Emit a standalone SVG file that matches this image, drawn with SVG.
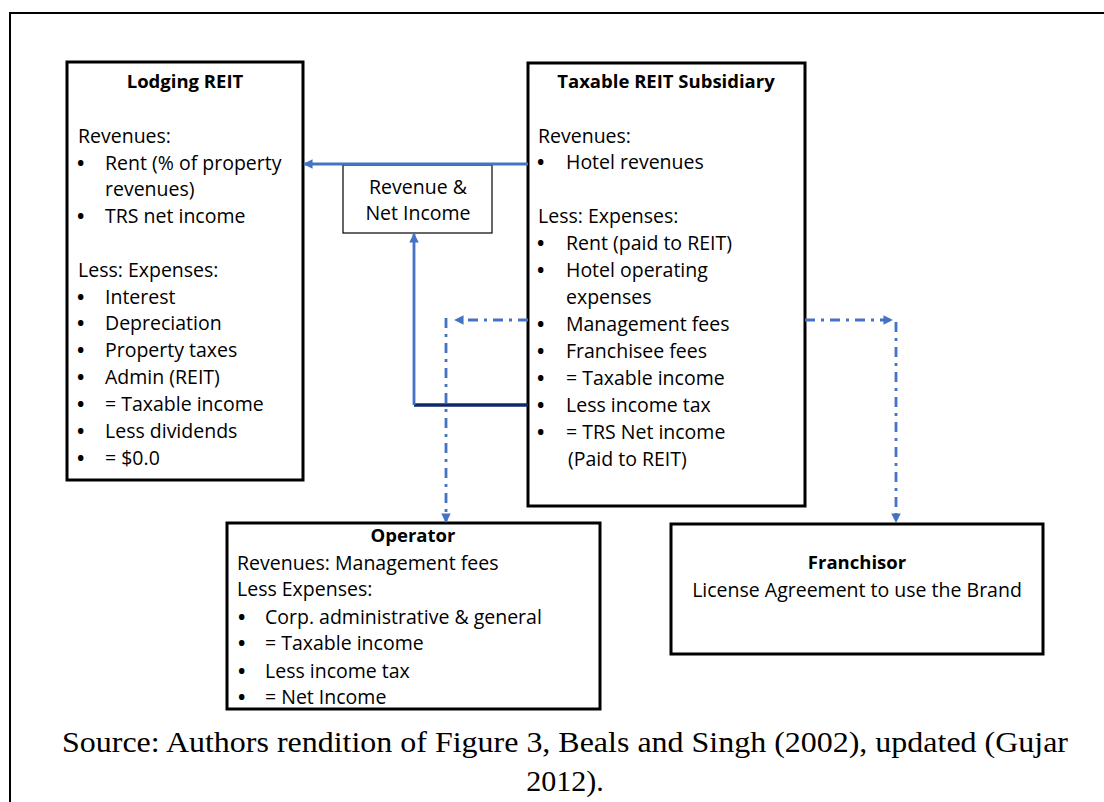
<svg xmlns="http://www.w3.org/2000/svg" width="1104" height="802" viewBox="0 0 1104 802">
<style>
.t{font-family:"Open Sans","Noto Sans",sans-serif;font-size:19.5px;fill:#000}
.bu{font-family:"Open Sans","Noto Sans",sans-serif;font-size:19.5px;font-weight:bold;fill:#000}
.b{font-weight:bold;font-size:18.5px}
.c{text-anchor:middle}
.box{fill:#fff;stroke:#000;stroke-width:3}
.thin{fill:#fff;stroke:#000;stroke-width:1.2}
.blue{fill:none;stroke:#4472C4;stroke-width:2.8}
.dd{fill:none;stroke:#4472C4;stroke-width:2.8;stroke-dasharray:10 6 3 6}
.navy{fill:none;stroke:#0E2A6B;stroke-width:3.5}
.cap{font-family:"Liberation Serif","Times New Roman",serif;font-size:30px;fill:#000;text-anchor:middle}
</style>
<defs>
<marker id="ah" viewBox="0 0 10 10" refX="9" refY="5" markerWidth="3.4" markerHeight="3.4" orient="auto" markerUnits="strokeWidth">
<path d="M0,0 L10,5 L0,10 z" fill="#4472C4"/>
</marker>
</defs>
<rect width="1104" height="802" fill="#fff"/>
<rect x="10" y="13" width="1110" height="810" fill="none" stroke="#000" stroke-width="2"/>

<g id="lodging">
<rect class="box" x="67" y="62" width="236" height="418"/>
<text class="t b c" x="185" y="88">Lodging REIT</text>
<text class="t" x="78" y="143">Revenues:</text>
<text class="bu" x="77" y="170">•</text><text class="t" x="105" y="170">Rent (% of property</text>
<text class="t" x="105" y="196">revenues)</text>
<text class="bu" x="77" y="223">•</text><text class="t" x="105" y="223">TRS net income</text>
<text class="t" x="78" y="277">Less: Expenses:</text>
<text class="bu" x="77" y="304">•</text><text class="t" x="105" y="304">Interest</text>
<text class="bu" x="77" y="330">•</text><text class="t" x="105" y="330">Depreciation</text>
<text class="bu" x="77" y="357">•</text><text class="t" x="105" y="357">Property taxes</text>
<text class="bu" x="77" y="384">•</text><text class="t" x="105" y="384">Admin (REIT)</text>
<text class="bu" x="77" y="411">•</text><text class="t" x="105" y="411">= Taxable income</text>
<text class="bu" x="77" y="438">•</text><text class="t" x="105" y="438">Less dividends</text>
<text class="bu" x="77" y="465">•</text><text class="t" x="105" y="465">= $0.0</text>
</g>

<g id="trs">
<rect class="box" x="528" y="63" width="277" height="443"/>
<text class="t b c" x="666" y="88">Taxable REIT Subsidiary</text>
<text class="t" x="538" y="143">Revenues:</text>
<text class="bu" x="537" y="169">•</text><text class="t" x="566" y="169">Hotel revenues</text>
<text class="t" x="538" y="223">Less: Expenses:</text>
<text class="bu" x="537" y="250">•</text><text class="t" x="566" y="250">Rent (paid to REIT)</text>
<text class="bu" x="537" y="277">•</text><text class="t" x="566" y="277">Hotel operating</text>
<text class="t" x="566" y="304">expenses</text>
<text class="bu" x="537" y="331">•</text><text class="t" x="566" y="331">Management fees</text>
<text class="bu" x="537" y="358">•</text><text class="t" x="566" y="358">Franchisee fees</text>
<text class="bu" x="537" y="385">•</text><text class="t" x="566" y="385">= Taxable income</text>
<text class="bu" x="537" y="412">•</text><text class="t" x="566" y="412">Less income tax</text>
<text class="bu" x="537" y="439">•</text><text class="t" x="566" y="439">= TRS Net income</text>
<text class="t" x="568" y="466">(Paid to REIT)</text>
</g>

<g id="revbox">
<rect class="thin" x="343" y="165" width="149" height="68"/>
<text class="t c" x="418" y="194">Revenue &amp;</text>
<text class="t c" x="418" y="220">Net Income</text>
</g>

<g id="operator">
<rect class="box" x="227" y="523" width="373" height="186"/>
<text class="t b c" x="413" y="542">Operator</text>
<text class="t" x="237" y="570">Revenues: Management fees</text>
<text class="t" x="237" y="596">Less Expenses:</text>
<text class="bu" x="238" y="624">•</text><text class="t" x="265" y="624">Corp. administrative &amp; general</text>
<text class="bu" x="238" y="650">•</text><text class="t" x="265" y="650">= Taxable income</text>
<text class="bu" x="238" y="678">•</text><text class="t" x="265" y="678">Less income tax</text>
<text class="bu" x="238" y="704">•</text><text class="t" x="265" y="704">= Net Income</text>
</g>

<g id="franchisor">
<rect class="box" x="671" y="524" width="372" height="130"/>
<text class="t b c" x="857" y="569">Franchisor</text>
<text class="t c" x="857" y="597">License Agreement to use the Brand</text>
</g>

<g id="connectors">
<line class="blue" x1="528" y1="164" x2="304" y2="164" marker-end="url(#ah)"/>
<polyline class="navy" points="528,405 414,405"/>
<line class="blue" x1="414" y1="405" x2="414" y2="234" marker-end="url(#ah)"/>
<polyline class="dd" points="528,320 455,320" marker-end="url(#ah)"/>
<polyline class="dd" points="446,318 446,522" marker-end="url(#ah)"/>
<polyline class="dd" points="805,320 892,320" marker-end="url(#ah)"/>
<polyline class="dd" points="896,322 896,522" marker-end="url(#ah)"/>
</g>

<text class="cap" x="565" y="752" textLength="1006" lengthAdjust="spacingAndGlyphs">Source: Authors rendition of Figure 3, Beals and Singh (2002), updated (Gujar</text>
<text class="cap" x="565" y="791">2012).</text>
</svg>
